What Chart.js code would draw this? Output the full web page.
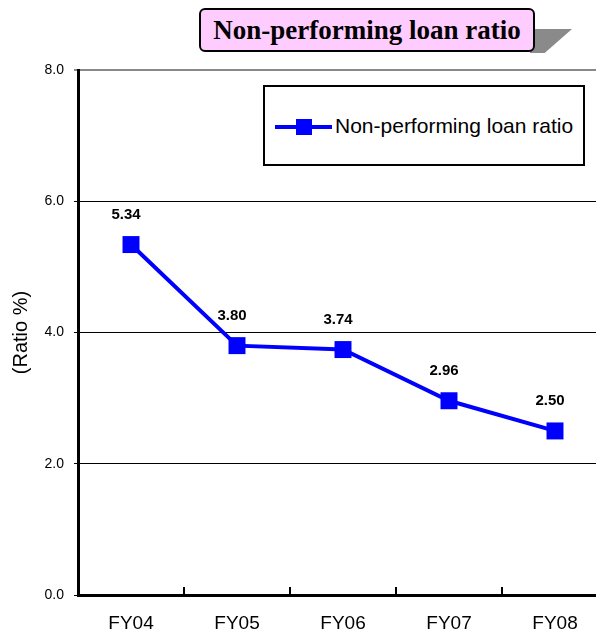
<!DOCTYPE html>
<html>
<head>
<meta charset="utf-8">
<script src="https://cdn.jsdelivr.net/npm/chart.js@4/dist/chart.umd.min.js"></script>
<style>
  html, body { margin: 0; padding: 0; background: #fff; overflow: hidden; }
  #wrap { position: relative; width: 596px; height: 635px; overflow: hidden; }
  #wrap canvas { position: absolute; left: 0; top: 0; }
  .shadow { position: absolute; left: 530px; top: 29px; width: 42px; height: 24px;
            background: #8a8a8a; clip-path: polygon(0 0, 100% 0, 35% 100%, 0 100%); }
  .title { position: absolute; left: 199px; top: 8px; width: 332px; height: 40px;
           background: #ffccff; border: 2px solid #000; border-radius: 6px;
           font: bold 27px "Liberation Serif", "Times New Roman", serif; color: #000;
           display: flex; align-items: center; justify-content: center; }
  .legend { position: absolute; left: 263px; top: 85px; width: 318px; height: 77px;
            background: #fff; border: 2px solid #000; }
  .legend .line { position: absolute; left: 10px; top: 38px; width: 57px; height: 4px; background: #0000ff; }
  .legend .mark { position: absolute; left: 31px; top: 32px; width: 16px; height: 16px; background: #0000ff; }
  .legend .txt { position: absolute; left: 70px; top: 27px; font: 21px "Liberation Sans", Arial, sans-serif; color: #000; white-space: nowrap; }
</style>
</head>
<body>
<div id="wrap">
  <canvas id="c" width="620" height="635" style="width:620px;height:635px"></canvas>
  <div class="shadow"></div>
  <div class="title">Non-performing loan ratio</div>
  <div class="legend"><div class="line"></div><div class="mark"></div><div class="txt">Non-performing loan ratio</div></div>
</div>
<script>
const categories = ["FY04", "FY05", "FY06", "FY07", "FY08"];
const seriesName = "Non-performing loan ratio";
const ratioValues = [5.34, 3.80, 3.74, 2.96, 2.50];
const yTicks = [0, 2, 4, 6, 8];

// value labels above each marker
const valueLabels = {
  id: "valueLabels",
  afterDatasetsDraw(chart) {
    const ctx = chart.ctx;
    const meta = chart.getDatasetMeta(0);
    ctx.save();
    ctx.font = "bold 15px 'Liberation Sans', Arial, sans-serif";
    ctx.fillStyle = "#000";
    ctx.textAlign = "center";
    ctx.textBaseline = "middle";
    meta.data.forEach((pt, i) => {
      ctx.fillText(ratioValues[i].toFixed(2), pt.x - 5, pt.y - 30);
    });
    ctx.restore();
  }
};

// short inward tick marks on the category axis at each category boundary
const innerTicks = {
  id: "innerTicks",
  afterDraw(chart) {
    const x = chart.scales.x;
    const ctx = chart.ctx;
    const half = (x.getPixelForValue(1) - x.getPixelForValue(0)) / 2;
    ctx.save();
    ctx.strokeStyle = "#000";
    ctx.lineWidth = 2;
    for (let i = 1; i <= categories.length; i++) {
      const px = Math.round(x.getPixelForValue(i) - half);
      ctx.beginPath();
      ctx.moveTo(px, x.top);
      ctx.lineTo(px, x.top - 8);
      ctx.stroke();
    }
    ctx.restore();
  }
};

new Chart(document.getElementById("c"), {
  type: "line",
  data: {
    labels: categories,
    datasets: [{
      label: seriesName,
      data: ratioValues,
      borderColor: "#0000ff",
      backgroundColor: "#0000ff",
      borderWidth: 4,
      pointStyle: "rect",
      pointRadius: 12,
      pointHoverRadius: 12,
      pointBorderWidth: 0,
      tension: 0
    }]
  },
  options: {
    responsive: false,
    animation: false,
    events: [],
    layout: { padding: { top: 70, right: 0, left: 0, bottom: 0 } },
    plugins: { legend: { display: false }, tooltip: { enabled: false } },
    scales: {
      x: {
        offset: true,
        grid: { display: false, drawTicks: false },
        border: { color: "#000", width: 3 },
        ticks: { color: "#000", padding: 17, font: { family: "'Liberation Sans', Arial, sans-serif", size: 19 } },
        afterFit(scale) { scale.height = 40; }
      },
      y: {
        min: 0, max: 8,
        afterBuildTicks(scale) { scale.ticks = yTicks.map(v => ({ value: v })); },
        grid: {
          color: ctx => (ctx.tick && ctx.tick.value === 8 ? "#888" : "#000"),
          lineWidth: ctx => (ctx.tick && ctx.tick.value === 8 ? 2 : 1),
          drawTicks: true,
          tickLength: 4
        },
        border: { color: "#000", width: 3 },
        ticks: {
          color: "#000",
          padding: 10,
          font: { family: "'Liberation Sans', Arial, sans-serif", size: 14 },
          callback: v => Number(v).toFixed(1)
        },
        title: {
          display: true,
          text: "(Ratio %)",
          color: "#000",
          padding: { top: 9, bottom: 4 },
          font: { family: "'Liberation Sans', Arial, sans-serif", size: 20 }
        },
        afterFit(scale) { scale.width = 78; }
      }
    }
  },
  plugins: [valueLabels, innerTicks]
});
</script>
</body>
</html>
